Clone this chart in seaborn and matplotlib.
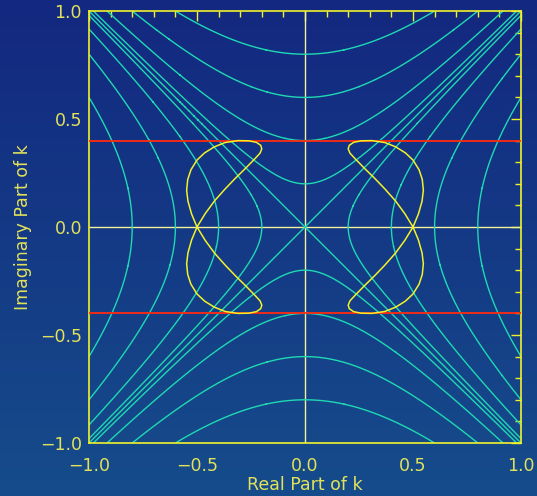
import numpy as np
import pandas as pd
import matplotlib
matplotlib.use("Agg")
import matplotlib.pyplot as plt
from matplotlib.ticker import MultipleLocator
import seaborn as sns

# Levels of Re(k^2) = x^2 - y^2 drawn as cyan contours
re_k2_levels = [-0.64, -0.36, -0.16, -0.04, 0.0, 0.04, 0.16, 0.36, 0.64]

# Bounds on the imaginary part (red lines)
im_bounds = [-0.4, 0.4]

# Root trajectory, right branch (closed figure-eight)
right_x = [0.500, 0.525, 0.542, 0.548, 0.543, 0.528, 0.500, 0.465, 0.420, 0.370,
           0.310, 0.260, 0.225, 0.205, 0.200, 0.208, 0.232, 0.275, 0.322, 0.370,
           0.418, 0.462, 0.500,
           0.525, 0.542, 0.548, 0.543, 0.528, 0.500, 0.465, 0.420, 0.370,
           0.310, 0.260, 0.225, 0.205, 0.200, 0.208, 0.232, 0.275, 0.322, 0.370,
           0.418, 0.462, 0.500]
right_y = [0.000, 0.060, 0.120, 0.170, 0.220, 0.265, 0.310, 0.343, 0.371, 0.391,
           0.400, 0.399, 0.392, 0.378, 0.362, 0.342, 0.316, 0.272, 0.226, 0.176,
           0.122, 0.062, 0.000,
           -0.060, -0.120, -0.170, -0.220, -0.265, -0.310, -0.343, -0.371, -0.391,
           -0.400, -0.399, -0.392, -0.378, -0.362, -0.342, -0.316, -0.272, -0.226, -0.176,
           -0.122, -0.062, 0.000]

# Root trajectory, left branch
left_x = [-v for v in right_x]
left_y = list(right_y)

x_ticks = [-1.0, -0.5, 0.0, 0.5, 1.0]
y_ticks = [-1.0, -0.5, 0.0, 0.5, 1.0]

CYAN = "#1fd9b2"
YELLOW = "#f2f22a"
PALE = "#f2f29a"
RED = "#ff2a10"
LABEL = "#e2e25a"

sns.set_theme(style="white")
plt.rcParams["font.family"] = ["DejaVu Sans"]

fig = plt.figure(figsize=(5.37, 4.96), dpi=100)

# Vertical background gradient over the whole figure
bg = fig.add_axes([0, 0, 1, 1], zorder=-10)
top = np.array([19, 40, 128]) / 255.0
bot = np.array([22, 76, 139]) / 255.0
t = np.linspace(0, 1, 256)[:, None, None]
grad = top * (1 - t) + bot * t
grad = np.repeat(grad, 2, axis=1)
bg.imshow(grad, aspect="auto", extent=[0, 1, 0, 1], interpolation="bilinear")
bg.set_axis_off()

ax = fig.add_axes([89 / 537, 53 / 496, 432 / 537, 432 / 496])
ax.set_facecolor("none")

# Re(k^2) contours
gx = np.linspace(-1, 1, 801)
gy = np.linspace(-1, 1, 801)
GX, GY = np.meshgrid(gx, gy)
ax.contour(GX, GY, GX ** 2 - GY ** 2, levels=re_k2_levels,
           colors=CYAN, linewidths=1.0, linestyles="solid")

# Zero axes
ax.axhline(0, color=PALE, lw=1.0, zorder=1)
ax.axvline(0, color=PALE, lw=1.0, zorder=1)

# Imaginary bounds
bounds = pd.DataFrame({"x": [-1, 1, -1, 1],
                       "y": [im_bounds[0], im_bounds[0], im_bounds[1], im_bounds[1]],
                       "g": ["lo", "lo", "hi", "hi"]})
sns.lineplot(data=bounds, x="x", y="y", units="g", estimator=None, sort=False,
             color=RED, lw=1.3, ax=ax, zorder=3)

# Trajectories
traj = pd.DataFrame({
    "x": right_x + left_x,
    "y": right_y + left_y,
    "branch": ["right"] * len(right_x) + ["left"] * len(left_x),
})
sns.lineplot(data=traj, x="x", y="y", units="branch", estimator=None, sort=False,
             color=YELLOW, lw=1.1, ax=ax, zorder=4)

ax.set_xlim(-1, 1)
ax.set_ylim(-1, 1)
ax.set_xticks(x_ticks)
ax.set_yticks(y_ticks)
ax.set_xticklabels([f"{v:.1f}".replace("-", "\u2212") for v in x_ticks])
ax.set_yticklabels([f"{v:.1f}".replace("-", "\u2212") for v in y_ticks])
ax.xaxis.set_minor_locator(MultipleLocator(0.1))
ax.yaxis.set_minor_locator(MultipleLocator(0.1))
ax.tick_params(which="both", direction="in", top=True, right=True,
               color=YELLOW, width=1.0)
ax.tick_params(which="major", length=7, labelsize=12.5, labelcolor=LABEL)
ax.tick_params(axis="x", which="major", pad=10)
ax.tick_params(axis="y", which="major", pad=5)
ax.tick_params(which="minor", length=4)
for s in ax.spines.values():
    s.set_color(YELLOW)
    s.set_linewidth(1.2)

ax.set_xlabel("Real Part of k", color=LABEL, fontsize=12.5, labelpad=1)
ax.set_ylabel("Imaginary Part of k", color=LABEL, fontsize=12.5, labelpad=6)

fig.savefig("out.png", dpi=100)
